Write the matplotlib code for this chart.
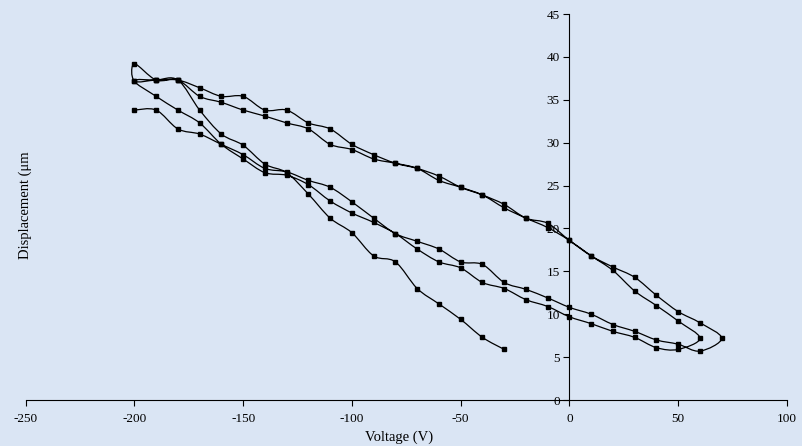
import numpy as np
import matplotlib
matplotlib.use('Agg')
import matplotlib.pyplot as plt
from matplotlib.path import Path
from matplotlib.patches import PathPatch

# --- data (voltage in V, displacement in um) ---
# first rising sweep, -200 V up to +70 V
lower1_v = [-200, -190, -180, -170, -160, -150, -140, -130, -120, -110, -100, -90, -80, -70,
            -60, -50, -40, -30, -20, -10, 0, 10, 20, 30, 40, 50, 60, 70]
lower1_d = [33.8, 33.8, 31.6, 31.0, 29.8, 28.6, 27.0, 26.6, 25.6, 24.8, 23.1, 21.2, 19.4, 18.5,
            17.6, 16.1, 15.8, 13.7, 12.9, 11.9, 10.8, 10.0, 8.8, 8.0, 7.0, 6.5, 5.7, 7.2]

# falling sweep back to -200 V
upper1_v = [60, 50, 40, 30, 20, 10, 0, -10, -20, -30, -40, -50, -60, -70, -80, -90,
            -100, -110, -120, -130, -140, -150, -160, -170, -180, -190, -200]
upper1_d = [9.0, 10.3, 12.2, 14.3, 15.5, 16.8, 18.6, 20.6, 21.2, 22.8, 23.9, 24.8, 26.1, 27.0,
            27.6, 28.6, 29.8, 31.6, 32.3, 33.8, 33.8, 35.4, 35.4, 36.4, 37.3, 37.3, 37.2]

# second rising sweep, up to +60 V
lower2_v = [-190, -180, -170, -160, -150, -140, -130, -120, -110, -100, -90, -80, -70, -60,
            -50, -40, -30, -20, -10, 0, 10, 20, 30, 40, 50, 60]
lower2_d = [35.4, 33.8, 32.3, 29.8, 28.1, 26.5, 26.2, 25.1, 23.2, 21.8, 20.7, 19.4, 17.6, 16.1,
            15.4, 13.7, 13.0, 11.7, 10.9, 9.7, 8.9, 8.0, 7.3, 6.1, 5.9, 7.2]

# second falling sweep
upper2_v = [50, 40, 30, 20, 10, 0, -10, -20, -30, -40, -50, -60, -70, -80, -90, -100,
            -110, -120, -130, -140, -150, -160, -170, -180, -190, -200, -200]
upper2_d = [9.2, 11.0, 12.7, 15.1, 16.8, 18.6, 20.1, 21.2, 22.4, 23.9, 24.8, 25.6, 27.0, 27.6,
            28.1, 29.2, 29.8, 31.6, 32.3, 33.1, 33.8, 34.7, 35.4, 37.3, 37.3, 39.2, 37.2]

# last rising sweep, stops at -30 V
final_v = [-190, -180, -170, -160, -150, -140, -130, -120, -110, -100, -90, -80, -70, -60,
           -50, -40, -30]
final_d = [37.3, 37.3, 33.8, 31.0, 29.7, 27.5, 26.5, 24.0, 21.2, 19.5, 16.8, 16.1, 13.0, 11.2,
           9.4, 7.3, 5.9]

voltage = np.array(lower1_v + upper1_v + lower2_v + upper2_v + final_v, dtype=float)
displacement = np.array(lower1_d + upper1_d + lower2_d + upper2_d + final_d, dtype=float)

x_ticks = [-250, -200, -150, -100, -50, 0, 50, 100]
y_ticks = [0, 5, 10, 15, 20, 25, 30, 35, 40, 45]


def smoothed(x, y):
    # Excel-style smoothed line: cubic bezier segments through every point
    pts = np.column_stack([x, y])
    n = len(pts)
    verts = [pts[0]]
    codes = [Path.MOVETO]
    for i in range(n - 1):
        p0 = pts[max(i - 1, 0)]
        p1 = pts[i]
        p2 = pts[i + 1]
        p3 = pts[min(i + 2, n - 1)]
        verts += [p1 + (p2 - p0) / 6.0, p2 - (p3 - p1) / 6.0, p2]
        codes += [Path.CURVE4] * 3
    return Path(verts, codes)


plt.rcParams['font.family'] = ['Liberation Serif', 'DejaVu Serif']
plt.rcParams['axes.unicode_minus'] = False

fig = plt.figure(figsize=(8.03, 4.46), dpi=100)
fig.patch.set_facecolor('#dae5f4')
ax = fig.add_axes([0.0319, 0.1031, 0.9482, 0.8655])
ax.set_facecolor('none')

ax.add_patch(PathPatch(smoothed(voltage, displacement), facecolor='none',
                       edgecolor='black', lw=0.9))
ax.plot(voltage, displacement, linestyle='none', marker='s', markersize=3,
        color='black')

ax.set_xlim(-250, 100)
ax.set_ylim(0, 45)
ax.set_xticks(x_ticks)
ax.set_yticks(y_ticks)
ax.set_xticklabels([str(t) for t in x_ticks])
ax.set_yticklabels([str(t) for t in y_ticks])

ax.spines['top'].set_visible(False)
ax.spines['right'].set_visible(False)
ax.spines['left'].set_position(('data', 0))
ax.spines['left'].set_linewidth(0.8)
ax.spines['bottom'].set_linewidth(0.8)
ax.tick_params(axis='both', direction='out', length=4, width=0.8, labelsize=9.5,
               colors='black')
ax.tick_params(axis='x', pad=5)
ax.tick_params(axis='y', pad=3)

fig.text(0.4975, 0.02, 'Voltage (V)', ha='center', va='center', fontsize=10.5)
fig.text(0.031, 0.54, 'Displacement (μm', ha='center', va='center', rotation=90,
         fontsize=10.5)

fig.savefig('out.png', dpi=100, facecolor=fig.get_facecolor())
